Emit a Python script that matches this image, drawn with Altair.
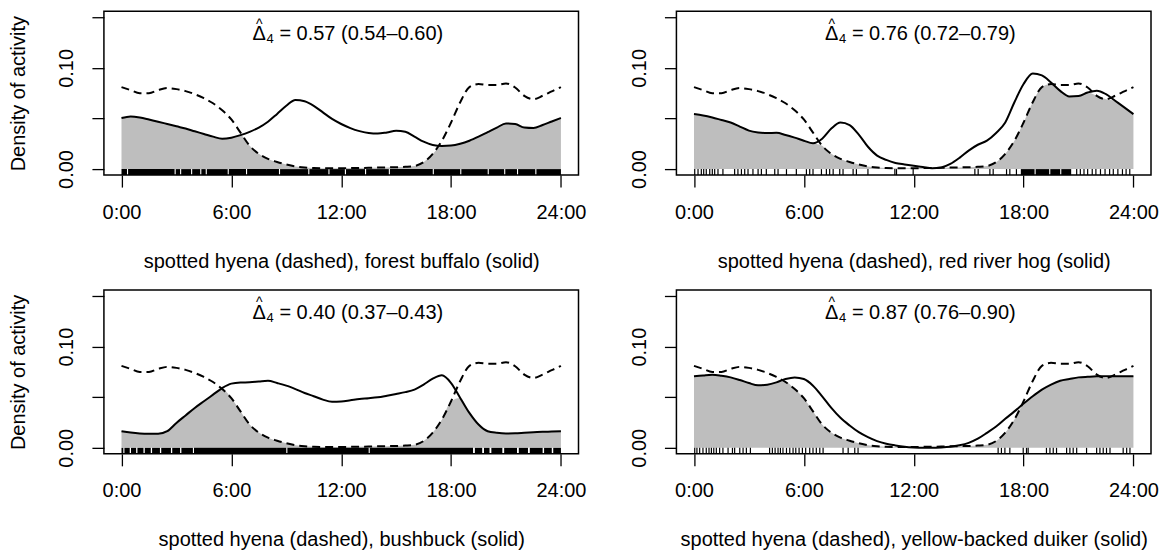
import altair as alt
import pandas as pd

# ---------------- data ----------------
hours = [i * 0.5 for i in range(49)]

hyena = [0.081, 0.078, 0.075, 0.075, 0.078, 0.080, 0.079, 0.077, 0.074, 0.070,
         0.065, 0.058, 0.049, 0.036, 0.023, 0.015, 0.010, 0.007, 0.0045, 0.0025,
         0.0015, 0.001, 0.0008, 0.0008, 0.0008, 0.0009, 0.001, 0.0012, 0.0015, 0.0016,
         0.0018, 0.0022, 0.003, 0.0067, 0.015, 0.028, 0.046, 0.066, 0.081, 0.084,
         0.083, 0.083, 0.0846, 0.0806, 0.0724, 0.069, 0.0724, 0.0767, 0.081]

buffalo = [0.0504, 0.052, 0.051, 0.049, 0.0468, 0.0445, 0.0422, 0.040, 0.0373, 0.0347,
           0.032, 0.030, 0.031, 0.0335, 0.0368, 0.041, 0.0468, 0.0545, 0.0625, 0.0683,
           0.067, 0.0625, 0.056, 0.0495, 0.0445, 0.0405, 0.0375, 0.0355, 0.035, 0.0362,
           0.0378, 0.0368, 0.032, 0.027, 0.0238, 0.0228, 0.0232, 0.025, 0.028, 0.032,
           0.0365, 0.041, 0.045, 0.0445, 0.041, 0.0405, 0.0435, 0.047, 0.0504]

hog = [0.0543, 0.053, 0.051, 0.0485, 0.046, 0.042, 0.038, 0.0362, 0.0356, 0.0358,
       0.0337, 0.031, 0.028, 0.0255, 0.030, 0.040, 0.046, 0.0435, 0.034, 0.022,
       0.0133, 0.009, 0.006, 0.0045, 0.0032, 0.002, 0.0008, 0.0015, 0.005, 0.011,
       0.0182, 0.024, 0.028, 0.0356, 0.046, 0.066, 0.084, 0.0945, 0.0925, 0.0855,
       0.0773, 0.0718, 0.0722, 0.0757, 0.0775, 0.074, 0.0675, 0.061, 0.0543]

bushbuck = [0.0164, 0.015, 0.0141, 0.0138, 0.0138, 0.0164, 0.0246, 0.032, 0.0394, 0.046,
            0.0525, 0.059, 0.0634, 0.0645, 0.0647, 0.0655, 0.0663, 0.064, 0.0614, 0.058,
            0.0542, 0.051, 0.0476, 0.0455, 0.0458, 0.047, 0.0483, 0.049, 0.0499, 0.0515,
            0.0532, 0.055, 0.0575, 0.0624, 0.0683, 0.0716, 0.064, 0.0493, 0.0345, 0.023,
            0.0164, 0.0148, 0.0141, 0.0143, 0.0148, 0.0153, 0.0158, 0.0162, 0.0164]

duiker = [0.0706, 0.0715, 0.0722, 0.0712, 0.0696, 0.067, 0.064, 0.0617, 0.0624, 0.0647,
          0.068, 0.0696, 0.068, 0.0614, 0.0509, 0.0394, 0.0296, 0.022, 0.0154, 0.0105,
          0.0066, 0.004, 0.0023, 0.001, 0.0003, 0.0, 0.0, 0.0003, 0.001, 0.0025,
          0.0049, 0.009, 0.0148, 0.021, 0.0286, 0.036, 0.0437, 0.051, 0.0575, 0.0625,
          0.0663, 0.068, 0.0696, 0.0702, 0.0706, 0.0706, 0.0706, 0.0706, 0.0706]

captions = [
    "spotted hyena (dashed), forest buffalo (solid)",
    "spotted hyena (dashed), red river hog (solid)",
    "spotted hyena (dashed), bushbuck (solid)",
    "spotted hyena (dashed), yellow-backed duiker (solid)",
]
overlap_texts = [
    "= 0.57 (0.54\u20130.60)",
    "= 0.76 (0.72\u20130.79)",
    "= 0.40 (0.37\u20130.43)",
    "= 0.87 (0.76\u20130.90)",
]

# rug: dense stretches (start, end) and single ticks, in hours
rug_dense_buffalo = [(0.0, 0.3), (0.36, 2.9), (2.96, 3.2), (3.26, 3.8), (3.86, 4.3), (4.36, 4.6),
                     (4.66, 5.8), (5.86, 6.8), (6.86, 8.6), (8.66, 10.2), (10.26, 11.3),
                     (11.36, 12.2), (12.26, 13.3), (13.36, 14.6), (14.66, 17.0), (17.06, 18.5),
                     (18.56, 20.0), (20.06, 20.9), (20.96, 21.6), (21.66, 22.6), (22.66, 24.0)]
rug_ticks_buffalo = []

rug_dense_hog = [(17.85, 18.6), (18.66, 19.4), (19.46, 20.0), (20.06, 20.6)]
rug_ticks_hog = [0.04, 0.22, 0.4, 0.53, 0.67, 0.86, 1.0, 1.13, 1.31, 1.58, 2.22, 2.4, 2.59,
                 2.77, 2.95, 3.22, 3.5, 3.68, 3.95, 4.41, 4.59, 5.05, 5.59, 6.14, 6.32, 6.5,
                 6.96, 7.23, 7.41, 7.6, 7.96, 8.14, 8.69, 8.87, 9.5, 10.97, 11.06, 11.97,
                 15.34, 15.52, 16.16, 16.34, 17.07, 17.25, 17.61, 20.9, 21.1, 21.3, 21.5,
                 21.75, 21.95, 22.2, 22.45, 22.7, 22.9, 23.15, 23.4, 23.6, 23.8]

rug_dense_bushbuck = [(0.0, 0.1), (0.16, 0.45), (0.52, 0.8), (0.87, 1.2), (1.27, 1.6),
                      (1.67, 2.1), (2.17, 2.7), (2.77, 3.2), (3.27, 3.9), (3.96, 9.0),
                      (9.06, 13.5), (13.56, 19.2), (19.3, 19.7), (19.8, 20.1), (20.2, 20.8),
                      (20.9, 21.6), (21.7, 22.2), (22.3, 23.0), (23.08, 23.5), (23.58, 24.0)]
rug_ticks_bushbuck = []

rug_dense_duiker = []
rug_ticks_duiker = [0.04, 0.16, 0.31, 0.49, 0.67, 0.82, 0.95, 1.08, 1.22, 1.4, 1.58, 1.86, 2.1,
                    2.22, 2.5, 2.68, 2.86, 3.08, 4.13, 4.28, 4.43, 4.59, 4.72, 4.86, 5.05, 5.23,
                    5.41, 5.56, 5.74, 5.92, 6.1, 6.32, 6.5, 6.68, 6.87, 7.05, 8.14, 8.42, 8.78,
                    8.96, 16.61, 16.79, 16.98, 17.25, 17.98, 18.16, 18.25, 19.25, 19.44, 19.62,
                    19.8, 20.35, 20.53, 20.71, 20.9, 21.44, 21.99, 22.17, 22.35, 22.53, 22.72,
                    23.44, 23.63, 23.81]

# ---------------- chart ----------------
W, H = 475, 164
FONT = "Liberation Sans"
FS = 20

xscale = alt.Scale(domain=[-0.96, 24.96], nice=False, zero=False)
yscale = alt.Scale(domain=[-0.006, 0.156], nice=False, zero=False)


def make_panel(species, caption, otext, dense, ticks, ytitle):
    df = pd.DataFrame({
        "hour": hours,
        "hyena": hyena,
        "species": species,
        "overlap": [min(a, b) for a, b in zip(hyena, species)],
    })
    xaxis = alt.Axis(values=[0, 6, 12, 18, 24], labelExpr="datum.value + ':00'",
                     title=caption, tickSize=12, labelPadding=15, titlePadding=29,
                     domain=False, grid=False)
    yaxis = alt.Axis(values=[0, 0.05, 0.1, 0.15],
                     labelExpr="datum.value == 0 ? '0.00' : (abs(datum.value - 0.1) < 1e-6 ? '0.10' : '')",
                     labelAngle=270, labelAlign="center", labelBaseline="bottom",
                     tickSize=12, labelPadding=15, titlePadding=28,
                     domain=False, grid=False,
                     title="Density of activity" if ytitle else None)
    base = alt.Chart(df)
    area = base.mark_area(color="#BEBEBE", interpolate="monotone").encode(
        x=alt.X("hour:Q", scale=xscale, axis=xaxis),
        y=alt.Y("overlap:Q", scale=yscale, axis=yaxis),
        y2=alt.datum(0),
    )
    line_h = base.mark_line(color="black", strokeWidth=2, strokeDash=[8, 5],
                            interpolate="monotone").encode(x="hour:Q", y="hyena:Q")
    line_s = base.mark_line(color="black", strokeWidth=2,
                            interpolate="monotone").encode(x="hour:Q", y="species:Q")
    layers = [area, line_h, line_s]
    if dense:
        ddf = pd.DataFrame(dense, columns=["start", "end"])
        layers.append(alt.Chart(ddf).mark_rect(color="black").encode(
            x="start:Q", x2="end:Q", y=alt.value(H), y2=alt.value(H - 6)))
    if ticks:
        tdf = pd.DataFrame({"t": ticks})
        layers.append(alt.Chart(tdf).mark_rule(color="black", strokeWidth=1.2).encode(
            x="t:Q", y=alt.value(H), y2=alt.value(H - 6)))
    tx, ty = 7.15, 0.133
    layers.append(alt.Chart().mark_text(text="\u0394", align="left", baseline="middle",
                                        font=FONT, fontSize=FS, color="black").encode(
        x=alt.datum(tx), y=alt.datum(ty)))
    layers.append(alt.Chart().mark_text(text="^", align="center", baseline="middle",
                                        font=FONT, fontSize=14, dx=6.8, dy=-10,
                                        color="black").encode(
        x=alt.datum(tx), y=alt.datum(ty)))
    layers.append(alt.Chart().mark_text(text="4", align="left", baseline="middle",
                                        font=FONT, fontSize=13, dx=14, dy=5,
                                        color="black").encode(
        x=alt.datum(tx), y=alt.datum(ty)))
    layers.append(alt.Chart().mark_text(text=otext, align="left", baseline="middle",
                                        font=FONT, fontSize=FS, dx=27,
                                        color="black").encode(
        x=alt.datum(tx), y=alt.datum(ty)))
    return alt.layer(*layers).properties(width=W, height=H)


p1 = make_panel(buffalo, captions[0], overlap_texts[0], rug_dense_buffalo, rug_ticks_buffalo, True)
p2 = make_panel(hog, captions[1], overlap_texts[1], rug_dense_hog, rug_ticks_hog, False)
p3 = make_panel(bushbuck, captions[2], overlap_texts[2], rug_dense_bushbuck, rug_ticks_bushbuck, True)
p4 = make_panel(duiker, captions[3], overlap_texts[3], rug_dense_duiker, rug_ticks_duiker, False)

chart = alt.vconcat(
    alt.hconcat(p1, p2, spacing=41),
    alt.hconcat(p3, p4, spacing=41),
    spacing=17,
).properties(
    padding={"left": 0, "top": 2, "right": 0, "bottom": 0},
    background="white",
).configure_view(
    stroke="black", strokeWidth=1.5
).configure_axis(
    labelFont=FONT, labelFontSize=FS, labelColor="black",
    titleFont=FONT, titleFontSize=FS, titleColor="black", titleFontWeight="normal",
    tickColor="black", tickWidth=1.3,
).configure_concat(spacing=0)

chart.save("out.html", embed_options={"renderer": "svg", "actions": False})
